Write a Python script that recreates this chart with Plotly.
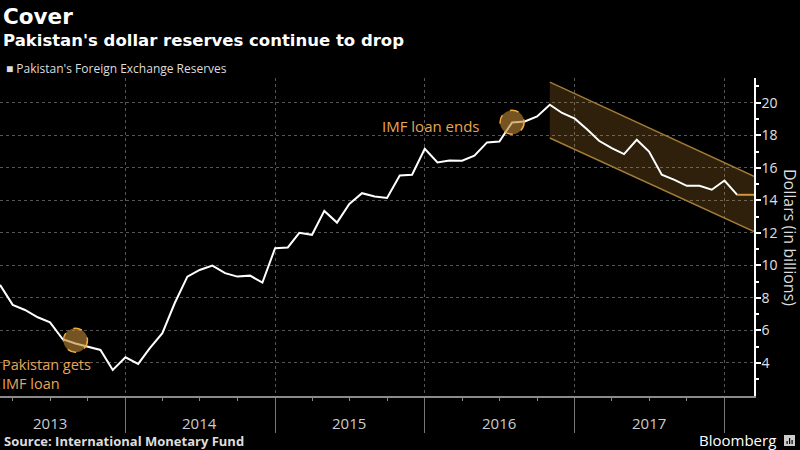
import plotly.graph_objects as go
import pandas as pd

# ---------------- data ----------------
start_month = "2013-03-01"
reserves = [
    8.80, 7.57, 7.26, 6.81, 6.50, 5.46, 5.20, 5.00, 4.80, 3.57,          # 2013 Mar-Dec
    4.35, 3.94, 4.90, 5.83, 7.67, 9.31, 9.72, 9.99, 9.52, 9.31, 9.37, 8.94,  # 2014
    11.06, 11.10, 12.00, 11.88, 13.35, 12.63, 13.78, 14.44, 14.23, 14.14, 15.53, 15.57,  # 2015
    17.17, 16.33, 16.45, 16.43, 16.74, 17.56, 17.62, 18.79, 18.85, 19.16, 19.88, 19.37,  # 2016
    19.02, 18.34, 17.66, 17.21, 16.84, 17.72, 17.00, 15.57, 15.26, 14.89, 14.89, 14.65,  # 2017
    15.22, 14.34,                                                          # 2018 Jan-Feb
]
series_name = "Pakistan's Foreign Exchange Reserves"

x_end = "2018-03-14"
channel_x = ["2016-11-01", x_end]
channel_upper = [21.27, 15.47]
channel_lower = [17.83, 12.08]

events = [
    {"date": "2013-09-01", "value": 5.40, "label": "Pakistan gets<br>IMF loan"},
    {"date": "2016-08-01", "value": 18.80, "label": "IMF loan ends"},
]

year_boundaries = ["2014-01-01", "2015-01-01", "2016-01-01", "2017-01-01", "2018-01-01"]
year_labels = ["2013", "2014", "2015", "2016", "2017"]
year_label_pos = ["2013-07-01", "2014-07-01", "2015-07-01", "2016-07-01", "2017-07-01"]
y_ticks = [4, 6, 8, 10, 12, 14, 16, 18, 20]
y_minor = [3, 5, 7, 9, 11, 13, 15, 17, 19, 21]

dates = pd.date_range(start_month, periods=len(reserves), freq="MS")

ORANGE = "#E6A654"
EDGE = "#A27B37"
FONT = "Open Sans"
TFONT = "DejaVu Sans"

fig = go.Figure()

# channel fill
fig.add_trace(go.Scatter(
    x=[channel_x[0], channel_x[1], channel_x[1], channel_x[0], channel_x[0]],
    y=[channel_upper[0], channel_upper[1], channel_lower[1], channel_lower[0], channel_upper[0]],
    fill="toself", fillcolor="rgba(230,160,50,0.20)", line=dict(width=0),
    mode="lines", hoverinfo="skip", showlegend=False))
fig.add_trace(go.Scatter(x=channel_x, y=channel_upper, mode="lines",
                         line=dict(color=EDGE, width=1.5), showlegend=False))
fig.add_trace(go.Scatter(x=channel_x, y=channel_lower, mode="lines",
                         line=dict(color=EDGE, width=1.5), showlegend=False))

# main line
fig.add_trace(go.Scatter(x=dates, y=reserves, mode="lines", name=series_name,
                         line=dict(color="white", width=2), showlegend=False))
# last value marker line
fig.add_trace(go.Scatter(x=[dates[-1], x_end], y=[reserves[-1], reserves[-1]], mode="lines",
                         line=dict(color="#D9953A", width=2), showlegend=False))

shapes = []
for ev in events:
    shapes.append(dict(type="circle", xref="x", yref="y", xsizemode="pixel", ysizemode="pixel",
                       xanchor=ev["date"], yanchor=ev["value"], x0=-12, x1=12, y0=-12, y1=12,
                       fillcolor="rgba(190,135,55,0.62)", line=dict(color="#F0A840", width=1.5, dash="dash"),
                       layer="above"))
# Bloomberg logo
shapes.append(dict(type="rect", xref="paper", yref="paper", x0=784/754, x1=795/754,
                   y0=(396-446)/318, y1=(396-435)/318, fillcolor="#cccccc", line=dict(width=0)))
for bx0, bh in [(786.5, 3), (789, 6), (791.5, 4)]:
    shapes.append(dict(type="rect", xref="paper", yref="paper", x0=bx0/754, x1=(bx0+1.2)/754,
                       y0=(396-444)/318, y1=(396-444+bh)/318, fillcolor="black", line=dict(width=0)))

annotations = []
annotations.append(dict(xref="paper", yref="paper", x=0, y=(396 - 16) / 318, xanchor="left", yanchor="middle",
                        xshift=1, text="<b>Cover</b>", showarrow=False,
                        font=dict(family=TFONT, size=21.5, color="white")))
annotations.append(dict(xref="paper", yref="paper", x=0, y=(396 - 40) / 318, xanchor="left", yanchor="middle",
                        xshift=1, text="<b>Pakistan's dollar reserves continue to drop</b>", showarrow=False,
                        font=dict(family=TFONT, size=16.5, color="white")))
annotations.append(dict(xref="paper", yref="paper", x=0, y=(396 - 68) / 318, xanchor="left", yanchor="middle",
                        xshift=4, text="■ " + series_name, showarrow=False,
                        font=dict(family=FONT, size=12, color="#dddddd")))
annotations.append(dict(xref="paper", yref="paper", x=0, y=(396 - 441) / 318, xanchor="left", yanchor="middle",
                        xshift=2, text="<b>Source: International Monetary Fund</b>", showarrow=False,
                        font=dict(family=FONT, size=13, color="#dddddd")))
annotations.append(dict(xref="paper", yref="paper", x=778 / 754, y=(396 - 440) / 318, xanchor="right",
                        yanchor="middle", text="Bloomberg", showarrow=False,
                        font=dict(family=FONT, size=15, color="white")))
annotations.append(dict(xref="paper", yref="paper", x=790 / 754, y=0.5, xanchor="center", yanchor="middle",
                        text="Dollars (in billions)", textangle=90, showarrow=False,
                        font=dict(family=FONT, size=16, color="#dddddd")))
for pos, lab in zip(year_label_pos, year_labels):
    annotations.append(dict(xref="x", yref="paper", x=pos, y=(396 - 423) / 318, xanchor="center",
                            yanchor="middle", text=lab, showarrow=False,
                            font=dict(family=FONT, size=15, color="#cccccc")))
# event labels
annotations.append(dict(xref="paper", yref="y", x=0, y=events[0]["value"], xanchor="left", yanchor="top",
                        yshift=-13, text=events[0]["label"], showarrow=False, align="left",
                        font=dict(family=FONT, size=14.5, color=ORANGE)))
annotations.append(dict(xref="x", yref="y", x=events[1]["date"], y=events[1]["value"], xanchor="right",
                        yanchor="middle", xshift=-30, yshift=-4, text=events[1]["label"], showarrow=False,
                        font=dict(family=FONT, size=15, color=ORANGE)))

fig.update_layout(
    width=800, height=450,
    paper_bgcolor="black", plot_bgcolor="black",
    margin=dict(l=0, r=46, t=78, b=54),
    showlegend=False,
    shapes=shapes, annotations=annotations,
    font=dict(family=FONT, color="#dddddd"),
)
fig.update_xaxes(
    type="date", range=[start_month, x_end], automargin=False,
    tickmode="array", tickvals=year_boundaries, ticktext=[""] * len(year_boundaries),
    ticks="outside", ticklen=35, tickcolor="#777777", tickwidth=1,
    showgrid=True, gridcolor="#555555", griddash="dot", gridwidth=1,
    showline=True, linecolor="#8a8a8a", linewidth=1.5,
    minor=dict(ticks="outside", ticklen=3, tickcolor="#8a8a8a", dtick="M3", tick0="2013-01-01", showgrid=False),
    zeroline=False,
)
fig.update_yaxes(
    side="right", range=[1.97, 21.52], automargin=False,
    tickmode="array", tickvals=y_ticks, ticktext=[str(v) for v in y_ticks],
    ticks="outside", ticklen=5, tickcolor="white", tickwidth=1.5,
    ticklabelstandoff=-2,
    tickfont=dict(family=FONT, size=14, color="#e0e0e0"),
    showgrid=True, gridcolor="#555555", griddash="dot", gridwidth=1,
    showline=True, linecolor="white", linewidth=1.5,
    minor=dict(tickmode="array", tickvals=y_minor, ticks="outside", ticklen=3, tickcolor="white", showgrid=False),
    zeroline=False,
)

fig.write_html("out.html")
